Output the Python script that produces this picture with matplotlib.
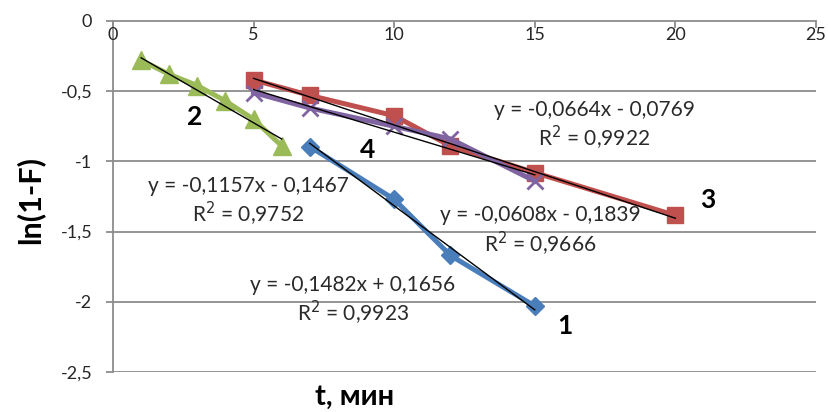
# ln(1-F) vs t, four series with linear trendlines
import numpy as np
import matplotlib.pyplot as plt

plt.rcParams['font.family'] = ['Lato', 'DejaVu Sans']

# data
T1 = [7, 10, 12, 15]
Y1 = [-0.895, -1.27, -1.67, -2.03]
T2 = [1, 2, 3, 4, 5, 6]
Y2 = [-0.28, -0.38, -0.46, -0.57, -0.70, -0.89]
T3 = [5, 7, 10, 12, 15, 20]
Y3 = [-0.42, -0.53, -0.675, -0.89, -1.08, -1.385]
T4 = [5, 7, 10, 12, 15]
Y4 = [-0.51, -0.62, -0.75, -0.84, -1.14]

# trendline coefficients (slope, intercept) and R^2 as printed
FIT1 = (-0.1482, 0.1656, 0.9923)
FIT2 = (-0.1157, -0.1467, 0.9752)
FIT3 = (-0.0664, -0.0769, 0.9922)
FIT4 = (-0.0608, -0.1839, 0.9666)

X_TICKS = [0, 5, 10, 15, 20, 25]
Y_TICKS = [0, -0.5, -1, -1.5, -2, -2.5]

GRID = '#8c8c8c'
TXT = '#262626'


def fmt(v):
    return ('%g' % v).replace('.', ',')


def eq_text(fit):
    k, b, r2 = fit
    sign = '+' if b >= 0 else '-'
    l1 = 'y = %sx %s %s' % (('%.4f' % k).replace('.', ','), sign,
                            ('%.4f' % abs(b)).replace('.', ','))
    l2 = 'R$^2$ = ' + ('%.4f' % r2).replace('.', ',')
    return l1, l2


fig = plt.figure(figsize=(8.29, 4.12), dpi=100)
ax = fig.add_axes([0.1363, 0.0971, 0.8480, 0.8520])
ax.set_xlim(0, 25)
ax.set_ylim(-2.5, 0)

for yv in Y_TICKS[1:]:
    ax.axhline(yv, color=GRID, lw=1.3, zorder=0)

series = [
    (T1, Y1, FIT1, '#4A7EBB', 'D', 9),
    (T2, Y2, FIT2, '#9BBB59', '^', 13),
    (T3, Y3, FIT3, '#C0504D', 's', 12),
    (T4, Y4, FIT4, '#8064A2', 'x', 11),
]
for t, y, fit, col, mk, ms in series:
    ax.plot(t, y, color=col, lw=3.6, marker=mk, ms=ms, mew=2 if mk == 'x' else 1,
            mec=col, mfc=col, zorder=2, clip_on=False)
for t, y, fit, col, mk, ms in series:
    xs = np.array([min(t), max(t)], dtype=float)
    ax.plot(xs, fit[0] * xs + fit[1], color='black', lw=1.0, zorder=3)

# equations (centre of first line, y of each line in pixels)
eq_pos = [(FIT1, 353, 285, 313), (FIT2, 248, 186, 214),
          (FIT3, 594, 110, 138), (FIT4, 540, 215, 244)]
for fit, px, py1, py2 in eq_pos:
    l1, l2 = eq_text(fit)
    fig.text(px / 829, 1 - py1 / 412, l1, ha='center', va='center', fontsize=15, color='#2a2a2a')
    fig.text(px / 829, 1 - py2 / 412, l2, ha='center', va='center', fontsize=15, color='#2a2a2a')

# series numbers
for lab, px, py in [('1', 565, 326), ('2', 195, 117), ('3', 708, 200), ('4', 368, 150)]:
    fig.text(px / 829, 1 - py / 412, lab, ha='center', va='center', fontsize=19,
             fontweight='bold', color='black')

# axes styling
for s in ['right', 'bottom']:
    ax.spines[s].set_visible(False)
ax.spines['top'].set_color(GRID)
ax.spines['left'].set_color(GRID)
ax.spines['top'].set_linewidth(1.3)
ax.spines['left'].set_linewidth(1.3)

ax.xaxis.set_ticks_position('top')
ax.set_xticks(X_TICKS)
ax.set_xticklabels([])
ax.tick_params(axis='x', direction='in', length=5, color=GRID, width=1.3)
for xv in X_TICKS:
    ax.text(xv, -0.045, str(xv), ha='center', va='top', fontsize=13, color=TXT)

ax.set_yticks(Y_TICKS)
ax.set_yticklabels([fmt(v) for v in Y_TICKS], fontsize=13, color=TXT)
ax.tick_params(axis='y', direction='out', length=5, color=GRID, width=1.3, pad=10)

fig.text(355 / 829, 1 - 397 / 412, 't, мин', ha='center', va='center', fontsize=21,
         fontweight='bold', color='black')
fig.text(30 / 829, 1 - 200 / 412, 'ln(1-F)', ha='center', va='center', fontsize=22,
         fontweight='bold', color='black', rotation=90)

fig.savefig('out.png', dpi=100)
